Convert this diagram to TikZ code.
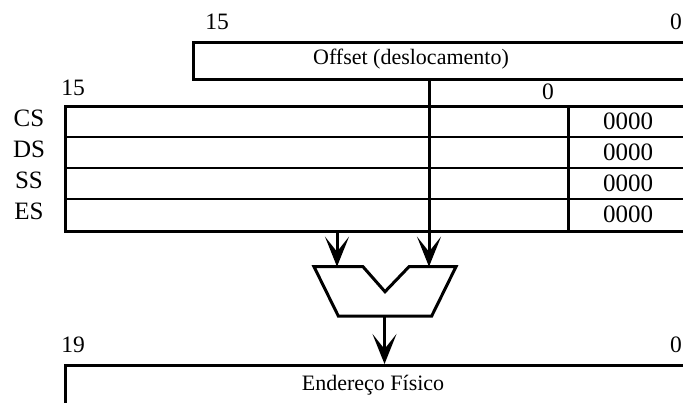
\documentclass[tikz,border=0pt]{standalone}
\usepackage{fontspec}
\setmainfont{Liberation Serif}
\usetikzlibrary{arrows.meta}
\tikzset{
  regbox/.style={draw, line width=3pt, inner sep=0pt, anchor=north west},
  thinrule/.style={line width=1.5pt},
  thickrule/.style={line width=3pt},
  arr/.style={line width=3pt, -{Stealth[length=30pt, width=24pt, inset=15pt]}},
  lbl/.style={inner sep=0pt, font=\fontsize{22}{26}\selectfont},
  bitlbl/.style={inner sep=0pt, font=\fontsize{23.5}{27}\selectfont},
  reglbl/.style={inner sep=0pt, font=\fontsize{25}{28}\selectfont},
  zlbl/.style={inner sep=0pt, font=\fontsize{25}{28}\selectfont},
}
\begin{document}
\begin{tikzpicture}[x=1pt, y=-1pt]
\useasboundingbox (0,0) rectangle (683,402);
\clip (0,0) rectangle (683,402);

% offset register
\node[regbox, minimum width=520pt, minimum height=37pt] (off) at (192,41) {};
\node[lbl] (offtxt) at (411,59) {Offset (deslocamento)};
\node[bitlbl] (off15) at (217,22) {15};
\node[bitlbl] (off0) at (676,22) {0};

% segment registers
\node[regbox, minimum width=650pt, minimum height=125pt] (seg) at (64,105) {};
\coordinate (r1) at (64,137);
\coordinate (r2) at (64,168);
\coordinate (r3) at (64,199);
\draw[thinrule] (r1) -- ++(640,0);
\draw[thinrule] (r2) -- ++(640,0);
\draw[thinrule] (r3) -- ++(640,0);
\coordinate (divt) at (568,105);
\coordinate (divb) at (568,230);
\draw[thickrule] (divt) -- (divb);
\node[bitlbl] (seg15) at (73,88) {15};
\node[bitlbl] (seg0) at (548,92) {0};

\node[reglbl] (cs) at (29,118) {CS};
\node[reglbl] (ds) at (29,149) {DS};
\node[reglbl] (ss) at (29,180) {SS};
\node[reglbl] (es) at (29,211) {ES};

\node[zlbl] (z1) at (628,121) {0000};
\node[zlbl] (z2) at (628,152.5) {0000};
\node[zlbl] (z3) at (628,183.5) {0000};
\node[zlbl] (z4) at (628,214.5) {0000};

% adder
\coordinate (inL) at (337,266.7);
\coordinate (inR) at (429,266.7);
\coordinate (aout) at (384.5,316);
\draw[thickrule, line join=miter]
  (314,266.7) -- (363,266.7) -- (385,291.7) -- (409,266.7) -- (456,266.7)
  -- (431.7,316) -- (338.3,316) -- cycle;

% connectors
\coordinate (offout) at (429,78);
\coordinate (segout) at (337,230);
\draw[arr] (offout) -- (inR);
\draw[arr] (segout) -- (inL);

% physical address
\node[regbox, minimum width=650pt, minimum height=60pt] (phys) at (64,364) {};
\coordinate (physin) at (384.5,364);
\draw[arr] (aout) -- (physin);
\node[bitlbl] (ph19) at (73,345) {19};
\node[bitlbl] (ph0) at (676,345) {0};
\node[lbl] (phtxt) at (373,385) {Endereço Físico};
\end{tikzpicture}
\end{document}
